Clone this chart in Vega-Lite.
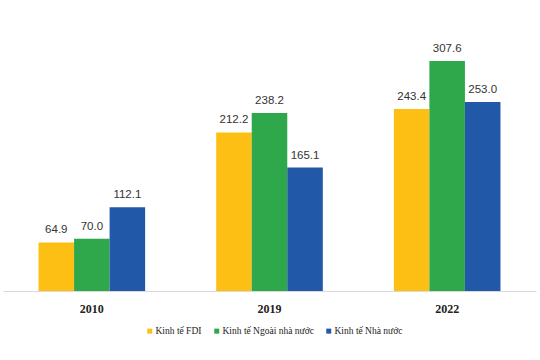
{
  "$schema": "https://vega.github.io/schema/vega-lite/v6.json",
  "autosize": {"type": "none"},
  "width": 533,
  "height": 284,
  "padding": {"left": 3, "top": 7, "right": 4, "bottom": 69},
  "background": "white",
  "data": {"values": [
    {"year": "2010", "series": "Kinh tế FDI", "value": 64.9},
    {"year": "2010", "series": "Kinh tế Ngoài nhà nước", "value": 70.0},
    {"year": "2010", "series": "Kinh tế Nhà nước", "value": 112.1},
    {"year": "2019", "series": "Kinh tế FDI", "value": 212.2},
    {"year": "2019", "series": "Kinh tế Ngoài nhà nước", "value": 238.2},
    {"year": "2019", "series": "Kinh tế Nhà nước", "value": 165.1},
    {"year": "2022", "series": "Kinh tế FDI", "value": 243.4},
    {"year": "2022", "series": "Kinh tế Ngoài nhà nước", "value": 307.6},
    {"year": "2022", "series": "Kinh tế Nhà nước", "value": 253.0}
  ]},
  "config": {"view": {"stroke": null}, "legend": {"labelFont": "Liberation Serif", "labelFontSize": 9.5, "labelColor": "#222"}},
  "encoding": {
    "x": {"field": "year", "type": "nominal",
      "scale": {"paddingInner": 0.4, "paddingOuter": 0.2},
      "axis": {"title": null, "labelAngle": 0, "labelFont": "Liberation Serif", "labelFontWeight": "bold", "labelFontSize": 12, "labelColor": "#222", "domainColor": "#d9d9d9", "domainWidth": 1, "ticks": false, "labelPadding": 12}},
    "xOffset": {"field": "series", "type": "nominal", "sort": ["Kinh tế FDI", "Kinh tế Ngoài nhà nước", "Kinh tế Nhà nước"]},
    "y": {"field": "value", "type": "quantitative", "scale": {"domain": [0, 380], "nice": false}, "axis": null}
  },
  "layer": [
    {"mark": {"type": "bar"},
     "encoding": {"color": {"field": "series", "type": "nominal",
       "sort": ["Kinh tế FDI", "Kinh tế Ngoài nhà nước", "Kinh tế Nhà nước"],
       "scale": {"range": ["#FDBF13", "#2EA84B", "#2158A7"]},
       "legend": {"title": null, "orient": "none", "direction": "horizontal", "legendX": 142, "legendY": 319, "symbolType": "square", "symbolSize": 25, "labelFont": "Liberation Serif", "labelFontSize": 9.5, "labelColor": "#222", "columnPadding": 10, "labelOffset": 1}}}},
    {"mark": {"type": "text", "baseline": "bottom", "dy": -7, "font": "Liberation Sans", "fontSize": 11.5, "color": "#333"},
     "encoding": {"text": {"field": "value", "type": "quantitative", "format": ".1f"}}}
  ]
}
